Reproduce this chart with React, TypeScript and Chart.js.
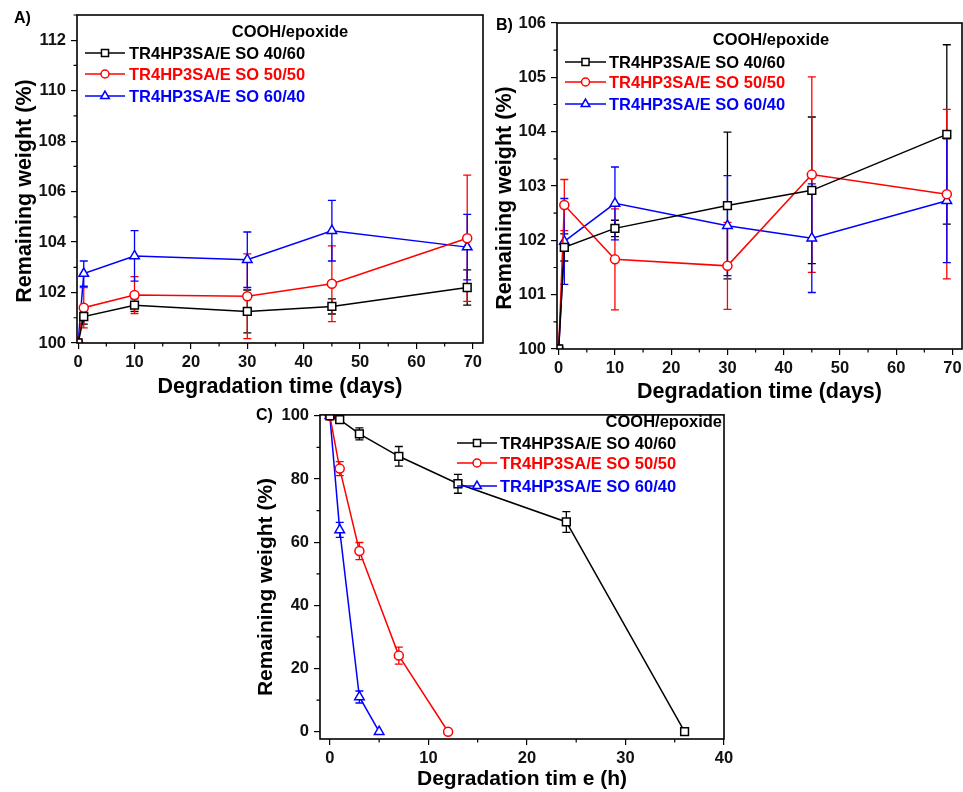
import React, { useEffect, useRef } from 'react';
import { Chart, registerables } from 'chart.js';

Chart.register(...registerables);

const FONT = "'Liberation Sans', Arial, Helvetica, sans-serif";

// ---------- shared ----------
const seriesLabels = ['TR4HP3SA/E SO 40/60', 'TR4HP3SA/E SO 50/50', 'TR4HP3SA/E SO 60/40'];
const legendTitle = 'COOH/epoxide';
const seriesColors = ['#000000', '#ff0000', '#0000ff'];
const seriesStyles = ['rect', 'circle', 'triangle'];
const yAxisTitle = 'Remaining weight (%)';

// ---------- Panel A (days) ----------
const timeA = [0, 1, 10, 30, 45, 69];
const wA4060 = [100, 101.05, 101.5, 101.25, 101.45, 102.2];
const eA4060 = [0, 0.3, 0.25, 0.85, 0.3, 0.7];
const wA5050 = [100, 101.4, 101.9, 101.85, 102.35, 104.15];
const eA5050 = [0, 0.8, 0.73, 1.68, 1.5, 2.5];
const wA6040 = [100, 102.75, 103.45, 103.3, 104.45, 103.8];
const eA6040 = [0, 0.5, 1.0, 1.1, 1.2, 1.3];
const yTicksA = [100, 102, 104, 106, 108, 110, 112];
const yMinorA = [101, 103, 105, 107, 109, 111, 113];
const xTicksA = [0, 10, 20, 30, 40, 50, 60, 70];
const xMinorA = [5, 15, 25, 35, 45, 55, 65];

// ---------- Panel B (days) ----------
const timeB = [0, 1, 10, 30, 45, 69];
const wB4060 = [100, 101.87, 102.22, 102.64, 102.92, 103.95];
const eB4060 = [0, 0.25, 0.15, 1.35, 1.35, 1.65];
const wB5050 = [100, 102.65, 101.65, 101.53, 103.21, 102.85];
const eB5050 = [0, 0.47, 0.93, 0.8, 1.8, 1.56];
const wB6040 = [100, 101.98, 102.68, 102.27, 102.04, 102.73];
const eB6040 = [0, 0.79, 0.67, 0.92, 1.0, 1.14];
const yTicksB = [100, 101, 102, 103, 104, 105, 106];
const yMinorB = [100.5, 101.5, 102.5, 103.5, 104.5, 105.5];
const xTicksB = [0, 10, 20, 30, 40, 50, 60, 70];
const xMinorB = [5, 15, 25, 35, 45, 55, 65];

// ---------- Panel C (hours) ----------
const timeC4060 = [0, 1, 3, 7, 13, 24, 36];
const wC4060 = [100, 98.8, 94.3, 87.2, 78.5, 66.4, 0];
const eC4060 = [0, 0.6, 1.9, 3.1, 3.0, 3.3, 0];
const timeC5050 = [0, 1, 3, 7, 12];
const wC5050 = [100, 83.3, 57.2, 24.1, 0];
const eC5050 = [0, 2.2, 2.7, 2.7, 0.5];
const timeC6040 = [0, 1, 3, 5];
const wC6040 = [100, 63.9, 11.0, 0];
const eC6040 = [0, 2.4, 1.9, 0];
const yTicksC = [0, 20, 40, 60, 80, 100];
const yMinorC = [10, 30, 50, 70, 90];
const xTicksC = [0, 10, 20, 30, 40];
const xMinorC = [5, 15, 25, 35];

type Series = { x: number[]; y: number[]; err: number[] };

type PanelCfg = {
  left: number; top: number; width: number; height: number;
  area: { left: number; top: number; right: number; bottom: number };
  xMin: number; xMax: number; yMin: number; yMax: number;
  xTicks: number[]; yTicks: number[]; xMinor: number[]; yMinor: number[];
  xTitle: string; titleSize: number;
  yTitlePos: { x: number; y: number };
  label: string; labelPos: { x: number; y: number };
  series: Series[];
  legend: { titleX: number; titleY: number; titleAlign: CanvasTextAlign; lineX1: number; lineX2: number; textX: number; rows: number[] };
};

const panels: PanelCfg[] = [
  {
    left: 0, top: 0, width: 490, height: 400,
    area: { left: 77, top: 15, right: 483, bottom: 343 },
    xMin: -0.2, xMax: 71.8, yMin: 100, yMax: 113,
    xTicks: xTicksA, yTicks: yTicksA, xMinor: xMinorA, yMinor: yMinorA,
    xTitle: 'Degradation time (days)', titleSize: 21.5,
    yTitlePos: { x: 25, y: 191 },
    label: 'A)', labelPos: { x: 14, y: 19 },
    series: [
      { x: timeA, y: wA4060, err: eA4060 },
      { x: timeA, y: wA5050, err: eA5050 },
      { x: timeA, y: wA6040, err: eA6040 },
    ],
    legend: { titleX: 290, titleY: 32, titleAlign: 'center', lineX1: 85, lineX2: 125, textX: 129, rows: [53, 74, 96] },
  },
  {
    left: 490, top: 0, width: 485, height: 405,
    area: { left: 67, top: 23, right: 472, bottom: 349 },
    xMin: -0.3, xMax: 71.7, yMin: 100, yMax: 106,
    xTicks: xTicksB, yTicks: yTicksB, xMinor: xMinorB, yMinor: yMinorB,
    xTitle: 'Degradation time (days)', titleSize: 21.5,
    yTitlePos: { x: 15, y: 198 },
    label: 'B)', labelPos: { x: 6, y: 26 },
    series: [
      { x: timeB, y: wB4060, err: eB4060 },
      { x: timeB, y: wB5050, err: eB5050 },
      { x: timeB, y: wB6040, err: eB6040 },
    ],
    legend: { titleX: 281, titleY: 40, titleAlign: 'center', lineX1: 75, lineX2: 116, textX: 119, rows: [62, 82, 104] },
  },
  {
    left: 240, top: 400, width: 500, height: 392,
    area: { left: 80, top: 14, right: 484, bottom: 339 },
    xMin: -1, xMax: 40, yMin: -2.3, yMax: 100.3,
    xTicks: xTicksC, yTicks: yTicksC, xMinor: xMinorC, yMinor: yMinorC,
    xTitle: 'Degradation tim e (h)', titleSize: 21,
    yTitlePos: { x: 26, y: 187 },
    label: 'C)', labelPos: { x: 16, y: 16 },
    series: [
      { x: timeC4060, y: wC4060, err: eC4060 },
      { x: timeC5050, y: wC5050, err: eC5050 },
      { x: timeC6040, y: wC6040, err: eC6040 },
    ],
    legend: { titleX: 482, titleY: 22, titleAlign: 'right', lineX1: 217, lineX2: 257, textX: 260, rows: [43, 63, 86] },
  },
];

const pointRadii = [5.5, 4.5, 5.5];

function drawMarker(ctx: CanvasRenderingContext2D, style: string, x: number, y: number, r: number, color: string) {
  ctx.save();
  ctx.beginPath();
  if (style === 'rect') {
    const s = Math.SQRT1_2 * r;
    ctx.rect(x - s, y - s, 2 * s, 2 * s);
  } else if (style === 'circle') {
    ctx.arc(x, y, r, 0, Math.PI * 2);
  } else {
    for (let k = 0; k < 3; k++) {
      const a = (k * 2 * Math.PI) / 3;
      const px = x + Math.sin(a) * r;
      const py = y - Math.cos(a) * r;
      if (k === 0) ctx.moveTo(px, py); else ctx.lineTo(px, py);
    }
    ctx.closePath();
  }
  ctx.fillStyle = '#ffffff';
  ctx.fill();
  ctx.lineWidth = 1.5;
  ctx.strokeStyle = color;
  ctx.stroke();
  ctx.restore();
}

function makePlugin(cfg: PanelCfg) {
  return {
    id: 'panelDecor',
    beforeDatasetsDraw(chart: any) {
      const ctx: CanvasRenderingContext2D = chart.ctx;
      const xs = chart.scales.x;
      const ys = chart.scales.y;
      ctx.save();
      cfg.series.forEach((s, i) => {
        ctx.strokeStyle = seriesColors[i];
        ctx.lineWidth = 1.3;
        s.x.forEach((xv, j) => {
          const e = s.err[j];
          if (!e) return;
          const px = xs.getPixelForValue(xv);
          const pLo = ys.getPixelForValue(s.y[j] - e);
          const pHi = ys.getPixelForValue(s.y[j] + e);
          ctx.beginPath();
          ctx.moveTo(px, pLo); ctx.lineTo(px, pHi);
          ctx.moveTo(px - 4, pLo); ctx.lineTo(px + 4, pLo);
          ctx.moveTo(px - 4, pHi); ctx.lineTo(px + 4, pHi);
          ctx.stroke();
        });
      });
      ctx.restore();
    },
    afterDraw(chart: any) {
      const ctx: CanvasRenderingContext2D = chart.ctx;
      const a = chart.chartArea;
      const xs = chart.scales.x;
      const ys = chart.scales.y;
      ctx.save();
      // frame
      ctx.strokeStyle = '#000';
      ctx.lineWidth = 1.6;
      ctx.strokeRect(a.left, a.top, a.right - a.left, a.bottom - a.top);
      // minor ticks
      ctx.lineWidth = 1.2;
      ctx.beginPath();
      cfg.xMinor.forEach((v) => {
        const px = xs.getPixelForValue(v);
        ctx.moveTo(px, a.bottom); ctx.lineTo(px, a.bottom + 3.5);
      });
      cfg.yMinor.forEach((v) => {
        if (v > cfg.yMax || v < cfg.yMin) return;
        const py = ys.getPixelForValue(v);
        ctx.moveTo(a.left - 3.5, py); ctx.lineTo(a.left, py);
      });
      ctx.stroke();
      // legend
      const lg = cfg.legend;
      ctx.fillStyle = '#000';
      ctx.font = `bold 16.5px ${FONT}`;
      ctx.textBaseline = 'middle';
      ctx.textAlign = lg.titleAlign;
      ctx.fillText(legendTitle, lg.titleX, lg.titleY);
      ctx.textAlign = 'left';
      lg.rows.forEach((ry, i) => {
        ctx.strokeStyle = seriesColors[i];
        ctx.lineWidth = 1.5;
        ctx.beginPath();
        ctx.moveTo(lg.lineX1, ry); ctx.lineTo(lg.lineX2, ry);
        ctx.stroke();
        drawMarker(ctx, seriesStyles[i], (lg.lineX1 + lg.lineX2) / 2, ry, pointRadii[i] - 0.5, seriesColors[i]);
        ctx.fillStyle = seriesColors[i];
        ctx.font = `bold 16.5px ${FONT}`;
        ctx.fillText(seriesLabels[i], lg.textX, ry + 1);
      });
      // panel label
      ctx.fillStyle = '#000';
      ctx.font = `bold 16px ${FONT}`;
      ctx.textAlign = 'left';
      ctx.fillText(cfg.label, cfg.labelPos.x, cfg.labelPos.y);
      // y title
      ctx.translate(cfg.yTitlePos.x, cfg.yTitlePos.y);
      ctx.rotate(-Math.PI / 2);
      ctx.textAlign = 'center';
      ctx.font = `bold ${cfg.titleSize}px ${FONT}`;
      ctx.fillText(yAxisTitle, 0, 0);
      ctx.restore();
    },
  };
}

function Panel({ cfg }: { cfg: PanelCfg }) {
  const ref = useRef<HTMLCanvasElement | null>(null);
  useEffect(() => {
    if (!ref.current) return;
    const tickFont = { family: FONT, size: 16.5, weight: 'bold' as const };
    const chart = new Chart(ref.current, {
      type: 'line',
      data: {
        datasets: cfg.series.map((s, i) => ({
          label: seriesLabels[i],
          data: s.x.map((x, j) => ({ x, y: s.y[j] })),
          borderColor: seriesColors[i],
          backgroundColor: '#ffffff',
          pointStyle: seriesStyles[i] as any,
          pointRadius: pointRadii[i],
          pointBorderWidth: 1.5,
          pointBackgroundColor: '#ffffff',
          pointBorderColor: seriesColors[i],
          borderWidth: 1.5,
          tension: 0,
          fill: false,
        })),
      },
      options: {
        animation: false,
        responsive: false,
        devicePixelRatio: 1,
        layout: { padding: { left: 0, top: cfg.area.top, right: cfg.width - cfg.area.right, bottom: 0 } },
        plugins: { legend: { display: false }, tooltip: { enabled: false } },
        scales: {
          x: {
            type: 'linear',
            min: cfg.xMin,
            max: cfg.xMax,
            afterBuildTicks: (s: any) => { s.ticks = cfg.xTicks.map((v) => ({ value: v })); },
            afterFit: (s: any) => { s.height = cfg.height - cfg.area.bottom; },
            grid: { drawOnChartArea: false, drawTicks: true, tickLength: 6, color: '#000', lineWidth: 1.2 },
            border: { display: false },
            ticks: { font: tickFont, color: '#111', padding: 4, maxRotation: 0, autoSkip: false },
            title: { display: true, text: cfg.xTitle, color: '#000', font: { family: FONT, size: cfg.titleSize, weight: 'bold' }, padding: { top: 0, bottom: 0 } },
          },
          y: {
            type: 'linear',
            min: cfg.yMin,
            max: cfg.yMax,
            afterBuildTicks: (s: any) => { s.ticks = cfg.yTicks.map((v) => ({ value: v })); },
            afterFit: (s: any) => { s.width = cfg.area.left; },
            grid: { drawOnChartArea: false, drawTicks: true, tickLength: 6, color: '#000', lineWidth: 1.2 },
            border: { display: false },
            ticks: { font: tickFont, color: '#111', padding: 5, autoSkip: false },
            title: { display: false },
          },
        },
      } as any,
      plugins: [makePlugin(cfg)],
    });
    return () => chart.destroy();
  }, [cfg]);
  return (
    <canvas
      ref={ref}
      width={cfg.width}
      height={cfg.height}
      style={{ position: 'absolute', left: cfg.left, top: cfg.top, width: cfg.width, height: cfg.height }}
    />
  );
}

export default function App() {
  return (
    <div style={{ position: 'absolute', left: 0, top: 0, width: 963, height: 792, background: '#ffffff', overflow: 'hidden' }}>
      {panels.map((p) => (
        <Panel key={p.label} cfg={p} />
      ))}
    </div>
  );
}
